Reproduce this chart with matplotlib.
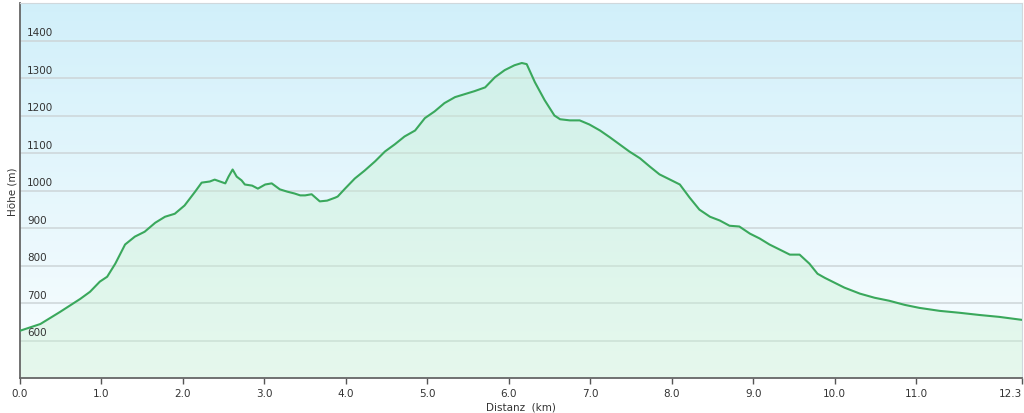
import matplotlib
matplotlib.use("Agg")
import matplotlib.pyplot as plt
import matplotlib.transforms as mtransforms
import numpy as np

# distance (km) and elevation (m)
distanz = [0.0, 0.25, 0.49, 0.74, 0.86, 0.98, 1.07, 1.17, 1.29, 1.41, 1.53, 1.66,
           1.78, 1.90, 2.02, 2.15, 2.23, 2.33, 2.39, 2.52, 2.56, 2.61, 2.66, 2.72,
           2.76, 2.85, 2.92, 3.01, 3.09, 3.19, 3.28, 3.37, 3.44, 3.50, 3.58, 3.68,
           3.77, 3.87, 3.90, 3.99, 4.11, 4.23, 4.36, 4.48, 4.60, 4.72, 4.85, 4.97,
           5.09, 5.21, 5.34, 5.46, 5.58, 5.71, 5.83, 5.95, 6.07, 6.16, 6.22, 6.32,
           6.44, 6.56, 6.63, 6.75, 6.87, 6.99, 7.12, 7.24, 7.36, 7.48, 7.61, 7.73,
           7.85, 7.98, 8.10, 8.22, 8.34, 8.47, 8.59, 8.71, 8.83, 8.96, 9.08, 9.20,
           9.33, 9.45, 9.57, 9.69, 9.79, 9.88, 10.0, 10.12, 10.31, 10.49, 10.67,
           10.86, 11.04, 11.29, 11.53, 11.78, 12.02, 12.3]
hoehe = [626, 644, 676, 711, 730, 757, 770, 805, 856, 877, 890, 914,
         930, 938, 960, 997, 1021, 1024, 1029, 1019, 1037, 1056, 1037, 1027,
         1016, 1013, 1005, 1016, 1019, 1003, 997, 992, 987, 987, 990, 971,
         973, 981, 984, 1005, 1032, 1053, 1078, 1104, 1123, 1144, 1160, 1193,
         1211, 1233, 1249, 1257, 1265, 1275, 1302, 1321, 1334, 1340, 1337, 1289,
         1241, 1200, 1190, 1187, 1187, 1176, 1160, 1142, 1123, 1104, 1086, 1064,
         1043, 1029, 1016, 981, 949, 930, 920, 906, 904, 885, 872, 856,
         842, 829, 829, 805, 778, 767, 754, 741, 725, 714, 706,
         695, 687, 679, 674, 668, 663, 655]

x_ticks = [0, 1, 2, 3, 4, 5, 6, 7, 8, 9, 10, 11, 12.3]
x_labels = ["0.0", "1.0", "2.0", "3.0", "4.0", "5.0", "6.0", "7.0", "8.0",
            "9.0", "10.0", "11.0", "12.3"]
y_ticks = [600, 700, 800, 900, 1000, 1100, 1200, 1300, 1400]

fig = plt.figure(figsize=(10.24, 4.14), dpi=100)
ax = fig.add_axes([20 / 1024, 35 / 414, 1002 / 1024, 375 / 414])
ax.set_xlim(0, 12.3)
ax.set_ylim(500, 1500)

# background gradient: light blue at top to near white at bottom
grad = np.linspace(0, 1, 256).reshape(-1, 1)
top = np.array([0.82, 0.94, 0.98])
bottom = np.array([0.98, 0.995, 1.0])
img = bottom + (top - bottom) * grad
ax.imshow(img[:, None, :].repeat(2, axis=1), extent=(0, 12.3, 500, 1500),
          origin="lower", aspect="auto", zorder=0)

for y in y_ticks:
    ax.axhline(y, color="#cdd5d8", lw=1.1, zorder=1)

ax.fill_between(distanz, hoehe, 500, color="#c8f0d2", alpha=0.4, lw=0, zorder=2)
ax.plot(distanz, hoehe, color="#3aa85c", lw=1.5, zorder=3)

trans = mtransforms.blended_transform_factory(ax.transAxes, ax.transData)
for y in y_ticks:
    ax.text(0.007, y + 8, str(y), transform=trans, fontsize=7.5, color="#333333",
            ha="left", va="bottom", zorder=4)

ax.set_yticks([])
ax.set_xticks(x_ticks)
ax.set_xticklabels(x_labels, fontsize=7.5, color="#333333")
ax.get_xticklabels()[-1].set_horizontalalignment("right")
ax.tick_params(axis="x", length=4, width=1, color="#555555", pad=3)

for s in ["top", "right"]:
    ax.spines[s].set_color("#d0d8dc")
    ax.spines[s].set_linewidth(0.8)
ax.spines["left"].set_color("#666666")
ax.spines["left"].set_linewidth(1.3)
ax.spines["bottom"].set_color("#666666")
ax.spines["bottom"].set_linewidth(1.3)

ax.set_xlabel("Distanz  (km)", fontsize=7.5, color="#333333", labelpad=3)
ax.set_ylabel("Höhe (m)", fontsize=7.5, color="#333333", labelpad=2)

fig.savefig("out.png", dpi=100)
